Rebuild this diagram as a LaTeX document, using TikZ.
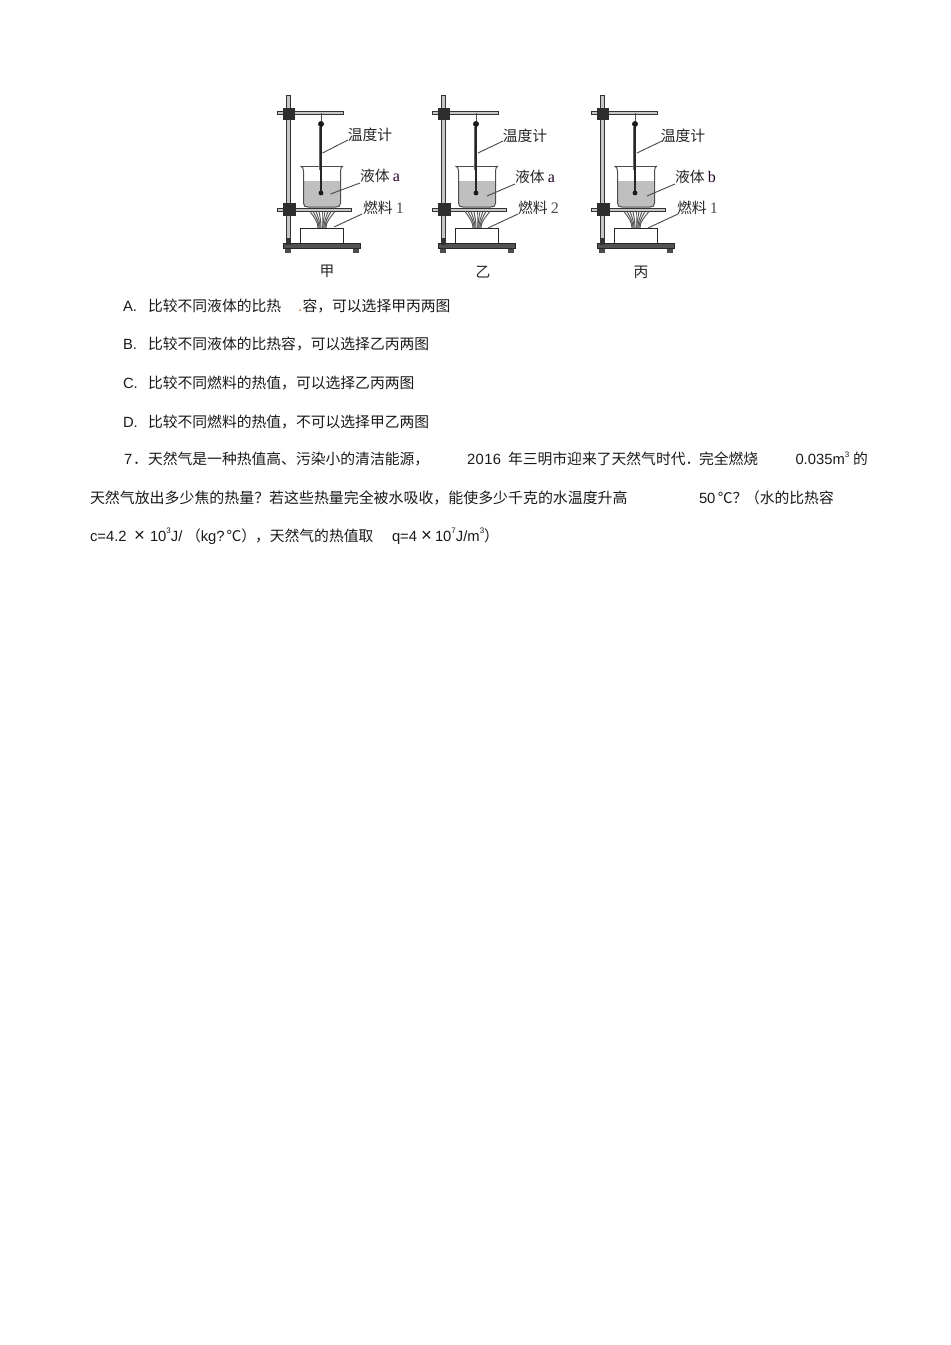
\documentclass[tikz,border=0pt]{standalone}
\usepackage{fontspec}
\setmainfont{Liberation Sans}
\newfontfamily\cjk{Noto Sans CJK SC}[Scale=1]
\newfontfamily\lblserif{Liberation Serif}
\newcommand{\sz}{\fontsize{11.1}{13}\selectfont}
\newcommand{\supr}[1]{\raisebox{0.48em}{\fontsize{6}{6}\selectfont #1}}
\colorlet{ink}{black!90}
\colorlet{liq}{black!25}
\tikzset{
  x=0.75pt,y=-0.75pt,
  txt/.style={anchor=base west,inner sep=0pt,outer sep=0pt,text=ink,font=\sz},
  zh/.style={txt,font=\sz\cjk},
  lbl/.style={anchor=center,inner sep=0pt,outer sep=0pt,text=black!85,font=\sz\cjk},
  lead/.style={draw=black!70,line width=0.7pt},
  rodline/.style={draw=black!80,fill=black!22,line width=0.75pt},
  clampbox/.style={fill=black!82,draw=black!82},
  basebar/.style={fill=black!68,draw=black!85,line width=0.6pt},
  flame/.style={draw=black!65,line width=0.75pt},
}
% #1 name prefix, #2 x offset of stand
\newcommand{\apparatus}[2]{%
\begin{scope}[shift={(#2,0)}]
  % feet and base
  \fill[black!70] (285,248) rectangle (291,253);
  \fill[black!70] (353,248) rectangle (359,253);
  \path[basebar] (283,243.5) rectangle (360,248.5);
  % rod
  \path[rodline] (286,95.5) rectangle (290.5,244);
  \fill[black!80] (286,238) rectangle (291,245);
  % arm and ring
  \path[rodline] (277,111.5) rectangle (343,114);
  \path[rodline] (277,208) rectangle (351,211);
  % flames
  \foreach \a/\b in {310/318,313/319,316/320,319/321,322/322,325/323,328/324,331/325,335/326}
    \draw[flame] (\a,211.5) .. controls (\a*0.4+\b*0.6,218) and (\b,222) .. (\b,228);
  % burner
  \draw[black!85,fill=white,line width=0.75pt] (300,228) rectangle (343,243.5);
  % clamps
  \path[clampbox] (283,108) rectangle (294,119);
  \path[clampbox] (283,203) rectangle (295,215);
  % beaker
  \fill[liq] (303.5,181) -- (340.5,181) -- (340.5,203) .. controls (340.5,206) and (339,207) .. (336,207)
     -- (308,207) .. controls (305,207) and (303.5,206) .. (303.5,203) -- cycle;
  \draw[black!70,line width=0.75pt] (300.5,166) -- (343,166);
  \draw[black!70,line width=0.75pt] (300.5,166) .. controls (302.5,167) and (303.5,168) .. (303.5,171)
     -- (303.5,203) .. controls (303.5,206) and (305,207) .. (308,207)
     -- (336,207) .. controls (339,207) and (340.5,206) .. (340.5,203)
     -- (340.5,171) .. controls (340.5,168) and (341.5,167) .. (343,166);
  % thermometer
  \draw[black!70,line width=0.7pt] (321,113) -- (321,121);
  \draw[black!60,line width=1.2pt] (319.3,127) -- (319.3,170);
  \draw[black!85,line width=1.9pt] (321,126) -- (321,193);
  \fill[black!90] (321,124) circle (3);
  \fill[black!90] (321,193) circle (2.4);
\end{scope}}
\begin{document}
\begin{tikzpicture}
\useasboundingbox (0,0) rectangle (950,1345);
\apparatus{a}{0}
\apparatus{b}{155}
\apparatus{c}{314}

% --- figure labels
\node[lbl] (a1) at (370,135) {温度计};
\node[lbl,anchor=west] (a2) at (360,176) {液体\ {\lblserif\fontsize{12}{12}\selectfont\color{black!70!violet}a}};
\node[lbl,anchor=west] (a3) at (363,208) {燃料\ {\lblserif\fontsize{12}{12}\selectfont\color{black!70}1}};
\node[lbl] (a4) at (327,271) {甲};
\node[lbl] (b1) at (525,136) {温度计};
\node[lbl,anchor=west] (b2) at (515,177) {液体\ {\lblserif\fontsize{12}{12}\selectfont\color{black!70!violet}a}};
\node[lbl,anchor=west] (b3) at (518,208) {燃料\ {\lblserif\fontsize{12}{12}\selectfont\color{black!70}2}};
\node[lbl] (b4) at (483,272) {乙};
\node[lbl] (c1) at (683,136) {温度计};
\node[lbl,anchor=west] (c2) at (675,177) {液体\ {\lblserif\fontsize{12}{12}\selectfont\color{black!70!violet}b}};
\node[lbl,anchor=west] (c3) at (677,208) {燃料\ {\lblserif\fontsize{12}{12}\selectfont\color{black!70}1}};
\node[lbl] (c4) at (641,272) {丙};

% --- leader lines
\coordinate (a1e) at (322.5,153); \coordinate (a2e) at (330.5,194); \coordinate (a3e) at (334,227);
\coordinate (b1e) at (478,153);   \coordinate (b2e) at (487,196);   \coordinate (b3e) at (488,228);
\coordinate (c1e) at (637,153);   \coordinate (c2e) at (647,196);   \coordinate (c3e) at (648,228);
\coordinate (a1s) at (348,140); \coordinate (a2s) at (360,183); \coordinate (a3s) at (362,214);
\coordinate (b1s) at (503,141); \coordinate (b2s) at (515,184); \coordinate (b3s) at (518,214);
\coordinate (c1s) at (662,141); \coordinate (c2s) at (675,184); \coordinate (c3s) at (678,214);
\foreach \n in {a1,a2,a3,b1,b2,b3,c1,c2,c3}
  \draw[lead] (\n s) -- (\n e);

% --- options
\node[txt] (oa) at (123,311.5) {A.};
\node[zh] (oa1) at (148,311.5) {比较不同液体的比热};
\node[txt,text=orange!80!black] (oad) at (298,311.5) {.};
\node[zh] (oa2) at (302.5,311.5) {容，可以选择甲丙两图};
\node[txt] (ob) at (123,349.5) {B.};
\node[zh] (ob1) at (148,349.5) {比较不同液体的比热容，可以选择乙丙两图};
\node[txt] (oc) at (123,388) {C.};
\node[zh] (oc1) at (148,388) {比较不同燃料的热值，可以选择乙丙两图};
\node[txt] (od) at (123,427) {D.};
\node[zh] (od1) at (148,427) {比较不同燃料的热值，不可以选择甲乙两图};

% --- question 7
\node[txt] (q1) at (124,464.5) {7};
\node[zh] (q2) at (133,464.5) {．};
\node[zh] (q3) at (148,464.5) {天然气是一种热值高、污染小的清洁能源，};
\node[txt] (q4) at (467,464.5) {2\kern0.3pt0\kern0.3pt1\kern0.3pt6};
\node[zh] (q5) at (508,464.5) {年三明市迎来了天然气时代．};
\node[zh] (q6) at (699,464.5) {完全燃烧};
\node[txt] (q7) at (795.5,464.5) {0.035m\supr{3}};
\node[zh] (q8) at (853,464.5) {的};

\node[zh,font=\fontsize{11.2}{13}\selectfont\cjk] (r1) at (90,503) {天然气放出多少焦的热量？若这些热量完全被水吸收，能使多少千克的水温度升高};
\node[txt] (r2) at (699,503) {50\,{\cjk ℃？}};
\node[zh] (r3) at (745,503) {（水的比热容};

\node[txt] (s1) at (90,541) {c=4.2};
\node[txt,font=\fontsize{14}{14}\selectfont] (s2) at (134,541) {×};
\node[txt] (s3) at (150,541) {10\supr{3}J/};
\node[txt] (s4) at (186,541) {{\cjk （}kg?\kern1.5pt{\cjk ℃）}};
\node[zh] (s5) at (255,541) {，天然气的热值取};
\node[txt] (s6) at (392,541) {q=4};
\node[txt,font=\fontsize{14}{14}\selectfont] (s7) at (421,541) {×};
\node[txt] (s8) at (435,541) {10\supr{7}J/m\supr{3}{\cjk ）}};
\end{tikzpicture}
\end{document}
